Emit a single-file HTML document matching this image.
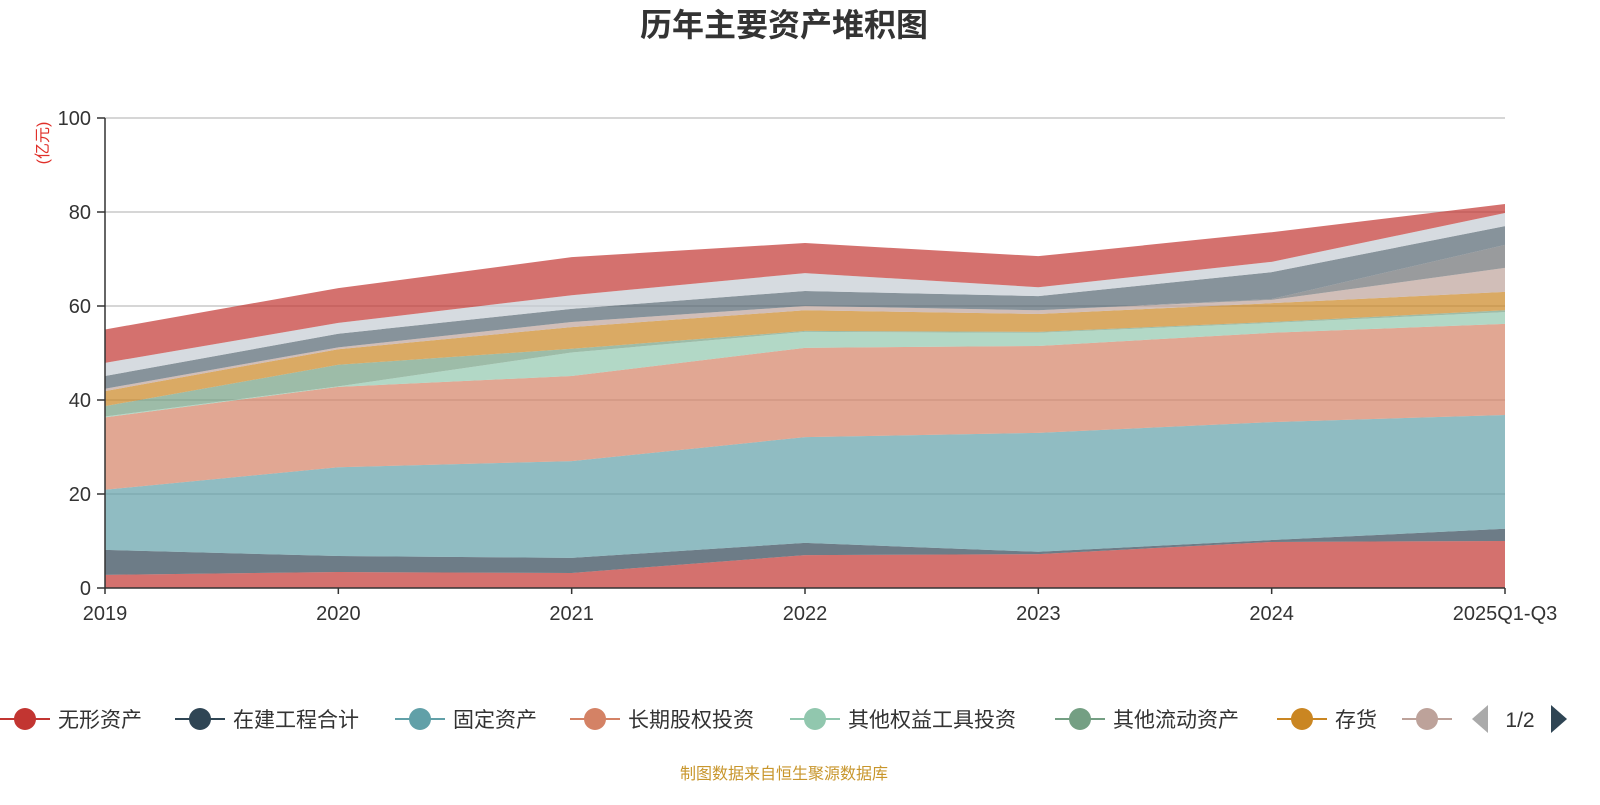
<!DOCTYPE html>
<html><head><meta charset="utf-8">
<style>
body{margin:0;background:#fff;font-family:"Liberation Sans","Noto Sans CJK SC",sans-serif;}
svg text{font-family:"Liberation Sans","Noto Sans CJK SC",sans-serif;}
</style></head>
<body>
<svg id="chart" width="1600" height="800" xmlns="http://www.w3.org/2000/svg">
<text x="784" y="36" text-anchor="middle" font-size="32" font-weight="bold" fill="#333">历年主要资产堆积图</text>
<text transform="translate(48,143) rotate(-90)" text-anchor="middle" font-size="16" fill="#e0302a">(亿元)</text>
<g id="grid"></g><g id="areas"></g><g id="axes"></g><g id="legend"></g>
<text x="784" y="779" text-anchor="middle" font-size="16" fill="#c8962c">制图数据来自恒生聚源数据库</text>
</svg>
<script>
const categories=["2019","2020","2021","2022","2023","2024","2025Q1-Q3"];
const seriesNames=["无形资产","在建工程合计","固定资产","长期股权投资","其他权益工具投资","其他流动资产","存货","应收票据","应收账款","交易性金融资产","预付款项","货币资金"];
const colors=["#c23531","#2f4554","#61a0a8","#d48265","#91c7ae","#749f83","#ca8622","#bda29a","#6e7074","#546570","#c4ccd3","#c23531"];
const s1=[2.8,3.4,3.2,7.0,7.2,9.8,10.0];
const s2=[5.3,3.4,3.2,2.6,0.5,0.4,2.6];
const s3=[12.8,18.9,20.6,22.5,25.3,25.1,24.2];
const s4=[15.4,17.1,18.1,19.0,18.5,19.0,19.4];
const s5=[0.2,0.1,5.0,3.4,2.8,2.1,2.5];
const s6=[2.2,4.6,0.8,0.2,0.2,0.2,0.4];
const s7=[3.2,3.3,4.6,4.4,3.8,4.0,3.9];
const s8=[0.5,0.4,1.1,0.9,0.8,0.7,5.1];
const s9=[0,0,0,0,0,0.2,4.9];
const s10=[2.7,2.9,2.8,3.2,3.0,5.7,4.0];
const s11=[2.8,2.3,2.9,3.8,1.9,2.2,2.8];
const s12=[7.1,7.4,8.1,6.4,6.6,6.3,1.9];
const series=[s1,s2,s3,s4,s5,s6,s7,s8,s9,s10,s11,s12];
const yTicks=[0,20,40,60,80,100];

const NS="http://www.w3.org/2000/svg";
const X0=105,X1=1505,Y0=588,Y1=118;
const xs=i=>X0+(X1-X0)*i/(categories.length-1);
const ys=v=>Y0-(Y0-Y1)*v/100;
function mk(tag,attrs,parent){const e=document.createElementNS(NS,tag);for(const k in attrs)e.setAttribute(k,attrs[k]);parent.appendChild(e);return e;}
const grid=document.getElementById('grid'),areas=document.getElementById('areas'),axes=document.getElementById('axes'),legend=document.getElementById('legend');
yTicks.forEach(t=>{
  if(t>0){const l=mk('line',{x1:X0,x2:X1,y1:ys(t),y2:ys(t),stroke:'#c8c8c8','stroke-width':1.5},grid);
  
  }
  const tk=mk('line',{x1:X0-8,x2:X0,y1:ys(t),y2:ys(t),stroke:'#333','stroke-width':1.5},axes);
  
  
  const tx=mk('text',{x:X0-14,y:ys(t)+7,'text-anchor':'end','font-size':20,fill:'#333'},axes);tx.textContent=t;
  
  
});
let base=categories.map(()=>0);
series.forEach((s,k)=>{
  const top=base.map((b,i)=>b+s[i]);
  let d='';
  top.forEach((v,i)=>{d+=(i?'L':'M')+xs(i)+','+ys(v);});
  for(let i=base.length-1;i>=0;i--)d+='L'+xs(i)+','+ys(base[i]);
  const p=mk('path',{d:d+'Z',fill:colors[k],'fill-opacity':0.7},areas);
  
  
  base=top;
});
const ya=mk('line',{x1:X0,x2:X0,y1:Y1,y2:Y0,stroke:'#333','stroke-width':1.5},axes);


const xa=mk('line',{x1:X0,x2:X1,y1:Y0,y2:Y0,stroke:'#333','stroke-width':1.5},axes);


categories.forEach((c,i)=>{
  const tk=mk('line',{x1:xs(i),x2:xs(i),y1:Y0,y2:Y0+6,stroke:'#333','stroke-width':1.5},axes);
  
  
  const tx=mk('text',{x:xs(i),y:620,'text-anchor':'middle','font-size':20,fill:'#333'},axes);tx.textContent=c;
  
  
});
const lcx=[25,200,420,595,815,1080,1302,1427];
for(let k=0;k<8;k++){
  const g=mk('g',{},legend);
  
  
  mk('line',{x1:lcx[k]-25,x2:lcx[k]+25,y1:719,y2:719,stroke:colors[k],'stroke-width':2},g);
  mk('circle',{cx:lcx[k],cy:719,r:11,fill:colors[k]},g);
  if(k<7){const t=mk('text',{x:lcx[k]+33,y:727,'font-size':21,fill:'#333'},g);t.textContent=seriesNames[k];}
}
const pl=mk('path',{d:'M1488,705L1472,719L1488,733Z',fill:'#aaa'},legend);


const pt=mk('text',{x:1520,y:727,'text-anchor':'middle','font-size':21,fill:'#333'},legend);pt.textContent='1/2';


const pn=mk('path',{d:'M1551,705L1567,719L1551,733Z',fill:'#2f4554'},legend);


</script>
</body></html>
